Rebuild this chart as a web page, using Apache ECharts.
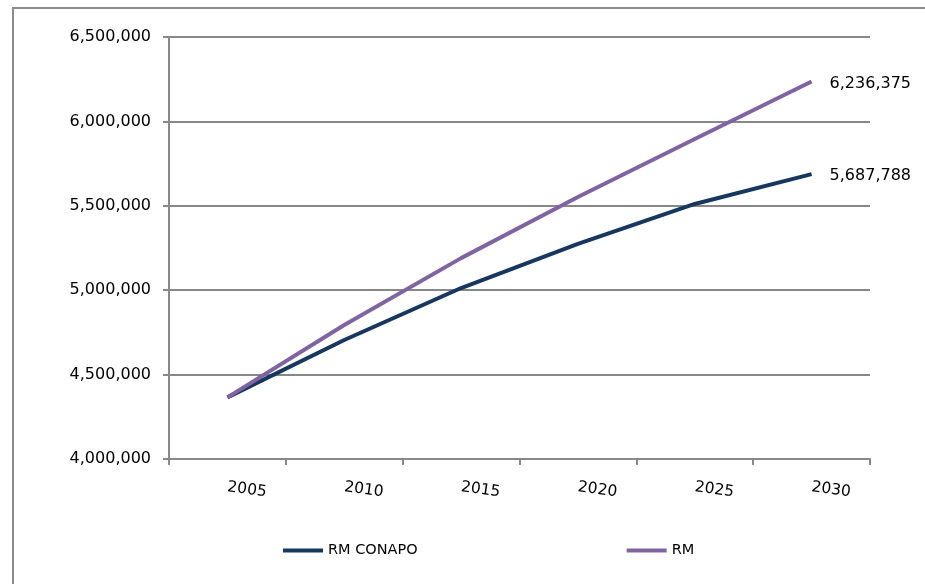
<!DOCTYPE html>
<html><head><meta charset="utf-8">
<script src="https://cdn.jsdelivr.net/npm/echarts@6/dist/echarts.min.js"></script>
<style>html,body{margin:0;padding:0;background:#fff}#c{width:925px;height:584px}</style>
</head><body><div id="c"></div>
<script>
const years = ['2005','2010','2015','2020','2025','2030'];
const rmConapo = [4365000, 4705000, 5013000, 5274000, 5511000, 5687788];
const rm = [4365000, 4794000, 5190000, 5552000, 5896000, 6236375];
const yTicks = {min: 4000000, max: 6500000, interval: 500000};

const chart = echarts.init(document.getElementById('c'));
const font = 'DejaVu Sans';
const fmt = v => Number(v).toLocaleString('en-US');
chart.setOption({
  animation:false,
  textStyle:{fontFamily:font},
  graphic:[{type:'rect', shape:{x:13,y:8,width:1000,height:700}, style:{fill:'none', stroke:'#8c8c8c', lineWidth:2}, silent:true}],
  grid:{left:169, right:55, top:37, bottom:125},
  legend:{
    bottom:21, left:278, itemGap:209, itemWidth:40, itemHeight:4, icon:'rect',
    textStyle:{fontFamily:font, fontSize:14.5, color:'#000'},
    data:['RM CONAPO','RM']
  },
  xAxis:{
    type:'category', data:years, boundaryGap:true,
    axisLine:{lineStyle:{color:'#888', width:2}},
    axisTick:{show:true, length:6, lineStyle:{color:'#888', width:2}},
    axisLabel:{rotate:-8, margin:28, color:'#000', fontSize:15.5, fontFamily:font}
  },
  yAxis:{
    type:'value', min:yTicks.min, max:yTicks.max, interval:yTicks.interval,
    axisLine:{show:true, lineStyle:{color:'#888', width:2}},
    axisTick:{show:true, length:6, lineStyle:{color:'#888', width:2}},
    splitLine:{lineStyle:{color:'#888', width:2}},
    axisLabel:{margin:18, color:'#000', fontSize:16, fontFamily:font, formatter:fmt}
  },
  series:[
    {name:'RM CONAPO', type:'line', data:rmConapo, symbol:'none', smooth:false,
     lineStyle:{color:'#17375e', width:4}, itemStyle:{color:'#17375e'},
     endLabel:{show:true, distance:18, offset:[0,2], color:'#000', fontSize:16, fontFamily:font, formatter:p=>fmt(p.value)}},
    {name:'RM', type:'line', data:rm, symbol:'none', smooth:false,
     lineStyle:{color:'#8064a2', width:4}, itemStyle:{color:'#8064a2'},
     endLabel:{show:true, distance:18, offset:[0,2], color:'#000', fontSize:16, fontFamily:font, formatter:p=>fmt(p.value)}}
  ]
});
</script></body></html>
